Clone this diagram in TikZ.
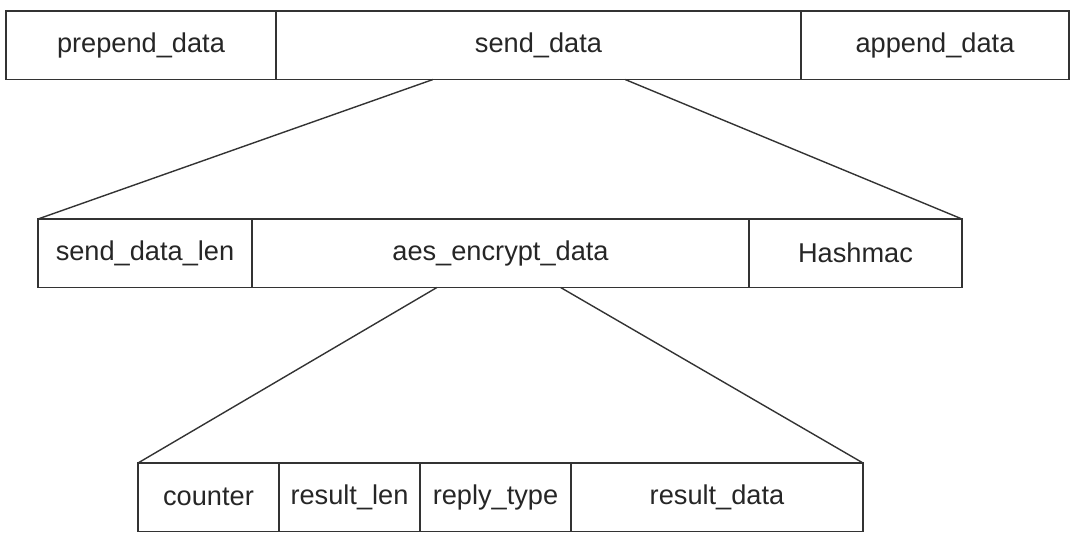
\documentclass[tikz,border=0pt]{standalone}
\usepackage{fontspec}
\setmainfont{Liberation Sans}
\usetikzlibrary{positioning}
\usetikzlibrary{calc}

\tikzset{
    cell/.style={draw=black!80, line width=0.8pt, inner sep=0pt, outer sep=0pt,
        minimum height=34.25pt, text=black!85, font=\fontsize{13.6}{16}\selectfont},
    fan/.style={draw=black!80, line width=0.7pt}
}

\begin{document}
\begin{tikzpicture}[x=0.5pt, y=-0.5pt]
        \useasboundingbox (0,0) rectangle (1080,541);

        % outer frame
        \node[cell, minimum width=135pt, anchor=north west] (prepend) at (6,11) {prepend\_data};
        \node[cell, minimum width=262.5pt, right=0pt of prepend] (send) {send\_data};
        \node[cell, minimum width=134pt, right=0pt of send] (append) {append\_data};

        % send_data contents
        \node[cell, minimum width=107pt, anchor=north west] (sendlen) at (38,219) {send\_data\_len};
        \node[cell, minimum width=248.5pt, right=0pt of sendlen] (aes) {aes\_encrypt\_data};
        \node[cell, minimum width=106.5pt, right=0pt of aes] (hashmac) {Hashmac};

        % aes_encrypt_data contents
        \node[cell, minimum width=70.5pt, anchor=north west] (counter) at (138,463) {counter};
        \node[cell, minimum width=70.5pt, right=0pt of counter] (reslen) {result\_len};
        \node[cell, minimum width=75.5pt, right=0pt of reslen] (reply) {reply\_type};
        \node[cell, minimum width=146pt, right=0pt of reply] (resdata) {result\_data};

        % expansion lines
        \draw[fan] ($(send.south west)!0.299!(send.south east)$) -- (sendlen.north west);
        \draw[fan] ($(send.south west)!0.665!(send.south east)$) -- (hashmac.north east);
        \draw[fan] ($(aes.south west)!0.372!(aes.south east)$) -- (counter.north west);
        \draw[fan] ($(aes.south west)!0.621!(aes.south east)$) -- (resdata.north east);

    \end{tikzpicture}
\end{document}
